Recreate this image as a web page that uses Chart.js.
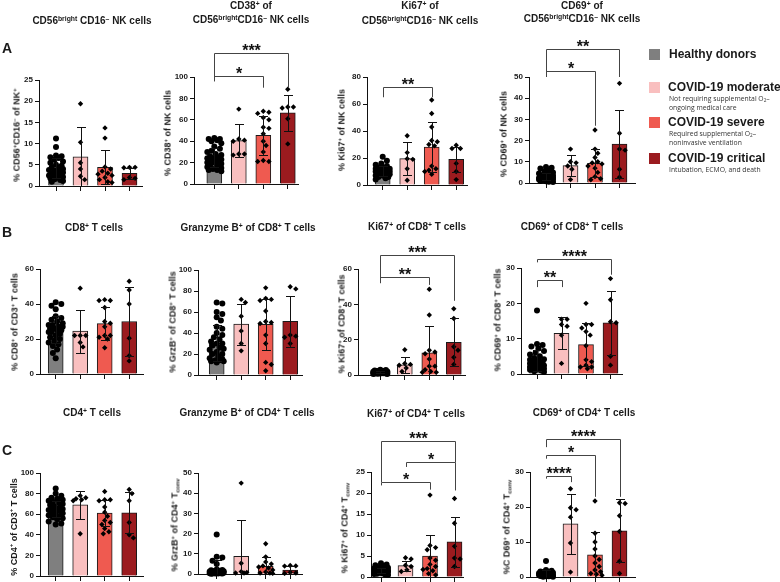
<!DOCTYPE html>
<html>
<head>
<meta charset="utf-8">
<title>NK and T cell phenotypes in COVID-19</title>
<script src="https://cdn.jsdelivr.net/npm/chart.js@4.4.1/dist/chart.umd.min.js"></script>
<style>
html,body{margin:0;padding:0;background:#fff;}
body{position:relative;width:780px;height:582px;overflow:hidden;font-family:"Liberation Sans",Arial,Helvetica,sans-serif;color:#1a1a1a;}
canvas{position:absolute;}
.tt{position:absolute;transform:translate(-50%,-50%);white-space:nowrap;font-weight:bold;font-size:10px;line-height:1;}
.yt{position:absolute;transform:translate(-50%,-50%) rotate(-90deg);white-space:nowrap;font-weight:bold;font-size:9px;line-height:1;}
.pl{position:absolute;transform:translate(-50%,-50%);font-weight:bold;font-size:14px;line-height:1;}
sup{font-size:68%;vertical-align:0.5em;line-height:0;}
sub{font-size:68%;vertical-align:-0.3em;line-height:0;}
.lg{position:absolute;width:11px;height:11px;}
.lt{position:absolute;transform:translateY(-50%);white-space:nowrap;font-weight:bold;font-size:12px;line-height:1;}
.ls{position:absolute;transform:translateY(-50%);white-space:nowrap;font-family:"Open Sans",sans-serif;font-size:6.8px;line-height:1;color:#333;}
</style>
</head>
<body>
<script>
// ---------- data ----------
const categories = ['Healthy donors', 'COVID-19 moderate', 'COVID-19 severe', 'COVID-19 critical'];
const groupColors = ['#7f7f7f', '#f9bfbf', '#ef5a50', '#9b1b1f'];
const legendNotes = [[], ['Not requiring supplemental O<sub>2</sub>–', 'ongoing medical care'], ['Required supplemental O<sub>2</sub>–', 'noninvasive ventilation'], ['Intubation, ECMO, and death']];

// A1  CD56bright CD16- NK cells
const A1_ticks = [0, 5, 10, 15, 20, 25];
const A1_mean = [4.3, 6.9, 4.4, 3.0];
const A1_sd = [2.3, 6.9, 4.0, 1.3];
const A1_points = [
  [11.2, 9.2, 7.2, 7.0, 6.8, 6.6, 6.2, 5.8, 5.5, 5.0, 4.8, 4.5, 4.3, 4.0, 3.8, 3.6, 3.4, 3.2, 3.0, 2.8, 2.6, 2.5, 2.3, 2.1, 2.0, 1.8, 1.6, 1.4, 1.2, 1.0],
  [19.4, 10.3, 5.5, 4.0, 2.3, 1.5],
  [13.7, 11.3, 4.5, 4.0, 3.5, 3.0, 2.8, 2.5, 2.0, 1.5, 1.0, 0.8],
  [4.4, 4.4, 4.3, 2.0, 1.8, 1.5]
];
const A1_sig = [];
const A1_title = ['CD56<sup>bright</sup> CD16<sup>–</sup> NK cells'];
const A1_ylabel = '% CD56<sup>+</sup>CD16<sup>–</sup> of NK<sup>+</sup>';

// A2  CD38+ of NK
const A2_ticks = [0, 20, 40, 60, 80, 100];
const A2_mean = [25, 40.5, 45.5, 66.5];
const A2_sd = [9, 15.5, 18, 17];
const A2_points = [
  [43, 42, 42, 41, 40, 38, 35, 33, 31, 30, 28, 27, 26, 25, 24, 23, 22, 21, 20, 20, 19, 18, 17, 16, 15, 14, 13, 13, 12, 24],
  [70, 42, 41, 40, 28, 28, 27],
  [68, 67, 66, 62, 60, 53, 52, 47, 40, 36, 30, 22, 21, 21],
  [88.5, 72, 72, 71, 61, 37.5]
];
const A2_sig = [[0, 3, 122.4, 96, 90, '***'], [0, 2, 101, 96, 90, '*']];
const A2_title = ['CD38<sup>+</sup> of', 'CD56<sup>bright</sup>CD16<sup>–</sup> NK cells'];
const A2_ylabel = '% CD38<sup>+</sup> of NK cells';

// A3  Ki67+ of NK
const A3_ticks = [0, 20, 40, 60, 80];
const A3_mean = [10.5, 19.5, 28, 19];
const A3_sd = [3.5, 12, 18.5, 9.5];
const A3_points = [
  [21, 18, 16, 15, 14, 13, 13, 12, 12, 12, 11, 11, 11, 10, 10, 10, 10, 9, 9, 9, 8, 8, 8, 7, 7, 6, 6, 5, 4, 10],
  [36.5, 24, 19.5, 19, 12, 3.5],
  [63, 53, 43, 33, 32, 30, 29, 14, 12, 11, 10, 8],
  [29.5, 27, 27, 16, 10, 4]
];
const A3_sig = [[0, 2, 72.6, 65, 65, '**']];
const A3_title = ['Ki67<sup>+</sup> of', 'CD56<sup>bright</sup>CD16<sup>–</sup> NK cells'];
const A3_ylabel = '% Ki67<sup>+</sup> of NK cells';

// A4  CD69+ of NK
const A4_ticks = [0, 10, 20, 30, 40, 50];
const A4_mean = [3.0, 8.2, 9.3, 18.3];
const A4_sd = [1.8, 5.0, 6.7, 16];
const A4_points = [
  [7.5, 7.2, 6.8, 6.0, 5.5, 5.0, 4.5, 4.0, 3.8, 3.5, 3.2, 3.0, 2.8, 2.6, 2.4, 2.2, 2.0, 2.0, 1.8, 1.6, 1.5, 1.4, 1.2, 1.0, 0.8, 0.6, 0.5, 3.0, 2.5, 1.8],
  [16, 10, 9.5, 8, 6.5, 1.6],
  [25, 16, 14, 12, 10, 9.5, 9, 8, 7, 5, 3, 2, 1.5],
  [47, 23.5, 16, 15.5, 6.5, 2.7]
];
const A4_sig = [[0, 3, 63, 50, 50, '**'], [0, 2, 52.8, 50, 27, '*']];
const A4_title = ['CD69<sup>+</sup> of', 'CD56<sup>bright</sup>CD16<sup>–</sup> NK cells'];
const A4_ylabel = '% CD69<sup>+</sup> of NK cells';

// B1  CD8+ T cells
const B1_ticks = [0, 20, 40, 60];
const B1_mean = [25.5, 24.5, 28.8, 30];
const B1_sd = [7.5, 12.3, 9.5, 19.5];
const B1_points = [
  [41, 40, 39, 37, 33, 32, 31, 30, 29, 28, 27, 27, 26, 26, 25, 25, 24, 23, 22, 21, 20, 19, 18, 17, 16, 14, 12, 9, 24, 28],
  [49, 22, 22, 22, 18, 15.5],
  [42.5, 42, 42, 38, 30, 29, 27, 22, 22, 21, 20, 15],
  [53, 48, 40, 20.5, 10.5, 7.5]
];
const B1_sig = [];
const B1_title = ['CD8<sup>+</sup> T cells'];
const B1_ylabel = '% CD8<sup>+</sup> of CD3<sup>+</sup> T cells';

// B2  Granzyme B+ of CD8+
const B2_ticks = [0, 20, 40, 60, 80, 100];
const B2_mean = [30.5, 48.5, 48.3, 51];
const B2_sd = [17, 19.5, 24.5, 24.5];
const B2_points = [
  [69, 68, 60, 58, 55, 52, 46, 44, 40, 38, 36, 34, 32, 30, 28, 26, 25, 22, 20, 18, 16, 15, 14, 13, 12, 13, 14, 20, 24, 30],
  [72, 69, 56, 42, 30, 23],
  [83, 73, 72, 71, 61, 51, 50, 49, 38, 30, 12, 10, 4],
  [84, 82, 38, 37, 36, 30]
];
const B2_sig = [];
const B2_title = ['Granzyme B<sup>+</sup> of CD8<sup>+</sup> T cells'];
const B2_ylabel = '% GrzB<sup>+</sup> of CD8<sup>+</sup> T cells';

// B3  Ki67+ of CD8+
const B3_ticks = [0, 20, 40, 60];
const B3_mean = [1.5, 5.8, 12.6, 18.5];
const B3_sd = [0.6, 4.4, 15, 13.5];
const B3_points = [
  [3.0, 2.8, 2.5, 2.3, 2.2, 2.0, 2.0, 1.9, 1.8, 1.7, 1.6, 1.6, 1.5, 1.5, 1.4, 1.4, 1.3, 1.3, 1.2, 1.2, 1.1, 1.0, 1.0, 0.9, 0.8, 0.8, 0.7, 0.6, 0.5, 1.5],
  [14.3, 6.5, 6, 5.5, 4, 2],
  [48.5, 34, 14, 13, 12, 9, 5, 5, 3, 2, 1.5, 1.5],
  [37.5, 32, 16, 14, 10, 6]
];
const B3_sig = [[0, 3, 67.9, 52, 42, '***'], [0, 2, 55.5, 52, 51, '**']];
const B3_title = ['Ki67<sup>+</sup> of CD8<sup>+</sup> T cells'];
const B3_ylabel = '% Ki67<sup>+</sup> of CD8<sup>+</sup> T cells';

// B4  CD69+ of CD8+
const B4_ticks = [0, 10, 20, 30];
const B4_mean = [3.8, 11.5, 8.3, 14.5];
const B4_sd = [3.0, 4.5, 6.0, 9.0];
const B4_points = [
  [18, 8.5, 8.2, 7.8, 7.2, 6.5, 6, 5.5, 5, 4.5, 4.2, 4, 3.8, 3.5, 3.2, 3, 2.8, 2.6, 2.4, 2.2, 2, 1.8, 1.6, 1.5, 1.3, 1.2, 1, 0.8, 0.6, 3],
  [15.5, 15.5, 14, 13.5, 11, 3],
  [20, 14, 14, 13, 12, 11, 8, 4, 3.5, 2.5, 2, 2, 1.5],
  [27, 21, 14.8, 14.5, 5, 2.5]
];
const B4_sig = [[0, 3, 32.6, 31.6, 28.1, '****'], [0, 1, 26.7, 24.6, 24.6, '**']];
const B4_title = ['CD69<sup>+</sup> of CD8<sup>+</sup> T cells'];
const B4_ylabel = '% CD69<sup>+</sup> of CD8<sup>+</sup> T cells';

// C1  CD4+ T cells
const C1_ticks = [0, 20, 40, 60, 80, 100];
const C1_mean = [65, 69, 61, 61.3];
const C1_sd = [7.5, 14, 12.5, 20];
const C1_points = [
  [85, 80, 78, 76, 75, 74, 73, 72, 71, 70, 69, 68, 67, 66, 65, 65, 64, 63, 62, 61, 60, 59, 58, 57, 56, 55, 53, 51, 50, 64],
  [78, 76, 75, 74, 73, 41],
  [82, 74, 74, 73, 67, 62, 58, 54, 52, 50, 46, 43, 41],
  [84, 80, 73, 52, 40, 37]
];
const C1_sig = [];
const C1_title = ['CD4<sup>+</sup> T cells'];
const C1_ylabel = '% CD4<sup>+</sup> of CD3<sup>+</sup> T cells';

// C2  Granzyme B+ of CD4+
const C2_ticks = [0, 10, 20, 30, 40, 50];
const C2_mean = [1.8, 8.7, 3.8, 2.0];
const C2_sd = [5.0, 18, 4.6, 1.8];
const C2_points = [
  [19.5, 8.5, 8.2, 6.5, 5, 2.2, 2, 1.8, 1.6, 1.5, 1.4, 1.3, 1.2, 1.1, 1, 0.9, 0.8, 0.8, 0.7, 0.6, 0.6, 0.5, 0.5, 0.4, 0.4, 0.3, 0.3, 0.2, 0.2, 0.1],
  [45, 5.3, 1.2, 0.8, 0.5, 0.5],
  [15, 8.5, 6, 5, 4, 3.5, 3, 2, 1, 0.5, 0.5, 0.3],
  [4.2, 4.0, 3.9, 0.8, 0.5, 0.3]
];
const C2_sig = [];
const C2_title = ['Granzyme B<sup>+</sup> of CD4<sup>+</sup> T cells'];
const C2_ylabel = '% GrzB<sup>+</sup> of CD4<sup>+</sup> T<sub>conv</sub>';

// C3  Ki67+ of CD4+
const C3_ticks = [0, 5, 10, 15, 20, 25];
const C3_mean = [1.6, 2.7, 5.0, 8.4];
const C3_sd = [0.6, 1.2, 5.0, 6.0];
const C3_points = [
  [3.3, 3.0, 2.8, 2.6, 2.4, 2.2, 2.0, 2.0, 1.9, 1.8, 1.7, 1.6, 1.6, 1.5, 1.5, 1.4, 1.4, 1.3, 1.3, 1.2, 1.2, 1.1, 1.0, 1.0, 0.9, 0.8, 0.7, 0.6, 0.5, 1.5],
  [4.6, 4.3, 2.8, 2.5, 1.7, 1.3],
  [19.5, 7.5, 7, 6.5, 4.5, 4, 3, 2.5, 2, 1.8, 1.5, 0.8, 0.5],
  [18.7, 12.8, 7.3, 4.5, 4.3, 2.5]
];
const C3_sig = [[0, 3, 32.4, 22.6, 27.3, '***'], [1, 3, 27.3, 26.2, 20.6, '*'], [0, 2, 22.6, 21.8, 20.8, '*']];
const C3_title = ['Ki67<sup>+</sup> of CD4<sup>+</sup> T cells'];
const C3_ylabel = '% Ki67<sup>+</sup> of CD4<sup>+</sup> T<sub>conv</sub>';

// C4  CD69+ of CD4+
const C4_ticks = [0, 10, 20, 30];
const C4_mean = [1.0, 15.2, 6.3, 13.2];
const C4_sd = [1.0, 8.5, 6.5, 9.0];
const C4_points = [
  [4.6, 2.0, 1.8, 1.6, 1.5, 1.4, 1.3, 1.2, 1.1, 1.0, 1.0, 0.9, 0.9, 0.8, 0.8, 0.7, 0.7, 0.6, 0.6, 0.5, 0.5, 0.4, 0.4, 0.3, 0.3, 0.2, 0.2, 0.1, 0.1, 0.8],
  [25.2, 19.8, 19.2, 17.1, 9.7, 1.4],
  [21.7, 12.5, 10, 8, 6, 5, 4, 3, 2, 1.5, 1, 0.8, 0.5],
  [21.2, 21, 17.5, 13, 4.5, 1]
];
const C4_sig = [[0, 3, 39.5, 37.1, 22.9, '****'], [0, 2, 34.8, 33.8, 22.9, '*'], [0, 1, 28.8, 28.1, 27.1, '****']];
const C4_title = ['CD69<sup>+</sup> of CD4<sup>+</sup> T cells'];
const C4_ylabel = '%C D69<sup>+</sup> of CD4<sup>+</sup> T<sub>conv</sub>';

// ---------- layout (page pixels) ----------
const LAYOUT = {
  A1: {axisX: 39, first: 56, end: 142, yTop: 80, y0: 186, tx: 92, ty: [21], ytx: 17, yty: 135},
  A2: {axisX: 194, first: 214.3, end: 298, yTop: 77, y0: 184, tx: 251, ty: [6, 20], ytx: 168, yty: 133},
  A3: {axisX: 367, first: 382.7, end: 467, yTop: 77, y0: 185, tx: 420, ty: [6, 21], ytx: 342, yty: 130},
  A4: {axisX: 529, first: 546, end: 635, yTop: 77, y0: 183, tx: 582, ty: [6, 19], ytx: 504, yty: 134},
  B1: {axisX: 40, first: 55.7, end: 143, yTop: 269, y0: 374, tx: 94, ty: [228], ytx: 15, yty: 322},
  B2: {axisX: 198, first: 216.7, end: 302, yTop: 270, y0: 375, tx: 248, ty: [228], ytx: 173, yty: 322},
  B3: {axisX: 358, first: 380.3, end: 465, yTop: 269, y0: 375, tx: 417, ty: [227], ytx: 342, yty: 324},
  B4: {axisX: 521, first: 537, end: 622, yTop: 268, y0: 374, tx: 572, ty: [227], ytx: 498, yty: 320},
  C1: {axisX: 40, first: 55.7, end: 143, yTop: 473, y0: 576, tx: 92, ty: [413], ytx: 14, yty: 527},
  C2: {axisX: 198, first: 216.7, end: 302, yTop: 473, y0: 574, tx: 247, ty: [413], ytx: 175, yty: 525},
  C3: {axisX: 371, first: 381, end: 463, yTop: 472, y0: 577, tx: 416, ty: [414], ytx: 345, yty: 528},
  C4: {axisX: 530, first: 546, end: 635, yTop: 472, y0: 577, tx: 584, ty: [413], ytx: 507, yty: 527}
};
const PANEL_LETTERS = [['A', 7, 48], ['B', 7, 232], ['C', 7, 450]];

const PANELS = [
  {id: 'A1', ticks: A1_ticks, mean: A1_mean, sd: A1_sd, pts: A1_points, sig: A1_sig, title: A1_title, ylab: A1_ylabel},
  {id: 'A2', ticks: A2_ticks, mean: A2_mean, sd: A2_sd, pts: A2_points, sig: A2_sig, title: A2_title, ylab: A2_ylabel},
  {id: 'A3', ticks: A3_ticks, mean: A3_mean, sd: A3_sd, pts: A3_points, sig: A3_sig, title: A3_title, ylab: A3_ylabel},
  {id: 'A4', ticks: A4_ticks, mean: A4_mean, sd: A4_sd, pts: A4_points, sig: A4_sig, title: A4_title, ylab: A4_ylabel},
  {id: 'B1', ticks: B1_ticks, mean: B1_mean, sd: B1_sd, pts: B1_points, sig: B1_sig, title: B1_title, ylab: B1_ylabel},
  {id: 'B2', ticks: B2_ticks, mean: B2_mean, sd: B2_sd, pts: B2_points, sig: B2_sig, title: B2_title, ylab: B2_ylabel},
  {id: 'B3', ticks: B3_ticks, mean: B3_mean, sd: B3_sd, pts: B3_points, sig: B3_sig, title: B3_title, ylab: B3_ylabel},
  {id: 'B4', ticks: B4_ticks, mean: B4_mean, sd: B4_sd, pts: B4_points, sig: B4_sig, title: B4_title, ylab: B4_ylabel},
  {id: 'C1', ticks: C1_ticks, mean: C1_mean, sd: C1_sd, pts: C1_points, sig: C1_sig, title: C1_title, ylab: C1_ylabel},
  {id: 'C2', ticks: C2_ticks, mean: C2_mean, sd: C2_sd, pts: C2_points, sig: C2_sig, title: C2_title, ylab: C2_ylabel},
  {id: 'C3', ticks: C3_ticks, mean: C3_mean, sd: C3_sd, pts: C3_points, sig: C3_sig, title: C3_title, ylab: C3_ylabel},
  {id: 'C4', ticks: C4_ticks, mean: C4_mean, sd: C4_sd, pts: C4_points, sig: C4_sig, title: C4_title, ylab: C4_ylabel}
];

// ---------- drawing ----------
const YW = 34, PT = 62, XH = 10, RP = 6, SP = 24.5, CAP = 4.5;
const FONT = '"Liberation Sans", Arial, Helvetica, sans-serif';

function swarm(vals, pxPerY, minD, maxOff, step) {
  const order = vals.map((v, i) => i).sort((a, b) => vals[b] - vals[a]);
  const cands = [0];
  for (let s = step; s <= maxOff + 1e-6; s += step) cands.push(s, -s);
  const placed = [], out = new Array(vals.length).fill(0);
  for (const i of order) {
    const yy = vals[i] * pxPerY;
    let best = 0, bestD = -1;
    for (const c of cands) {
      let md = Infinity;
      for (const q of placed) { const d = Math.hypot(q[0] - c, q[1] - yy); if (d < md) md = d; }
      if (md >= minD) { best = c; bestD = md; break; }
      if (md > bestD) { bestD = md; best = c; }
    }
    placed.push([best, yy]);
    out[i] = best;
  }
  return out;
}

function addDiv(cls, html, left, top) {
  const d = document.createElement('div');
  d.className = cls;
  d.innerHTML = html;
  d.style.left = left + 'px';
  d.style.top = top + 'px';
  document.body.appendChild(d);
  return d;
}

function decor(p) {
  return {
    id: 'decor' + p.id,
    afterDatasetsDraw(chart) {
      const ctx = chart.ctx, x = chart.scales.x, y = chart.scales.y;
      ctx.save();
      ctx.strokeStyle = '#111';
      ctx.lineWidth = 1;
      p.mean.forEach((m, i) => {
        const cx = Math.round(x.getPixelForValue(i)) + 0.5;
        const hiV = m + p.sd[i], loV = m - p.sd[i];
        const hi = Math.round(y.getPixelForValue(hiV)) + 0.5;
        const lo = Math.round(y.getPixelForValue(Math.max(0, loV))) + 0.5;
        ctx.beginPath();
        ctx.moveTo(cx, hi); ctx.lineTo(cx, lo);
        ctx.moveTo(cx - CAP, hi); ctx.lineTo(cx + CAP, hi);
        if (loV > 0) { ctx.moveTo(cx - CAP, lo); ctx.lineTo(cx + CAP, lo); }
        ctx.stroke();
      });
      ctx.strokeStyle = '#444';
      ctx.fillStyle = '#111';
      ctx.font = 'bold 16px ' + FONT;
      ctx.textAlign = 'center';
      ctx.textBaseline = 'alphabetic';
      p.sig.forEach(b => {
        const [i, j, lvl, le, re, label] = b;
        const xi = Math.round(x.getPixelForValue(i)) + 0.5, xj = Math.round(x.getPixelForValue(j)) + 0.5;
        const yl = Math.round(y.getPixelForValue(lvl)) + 0.5;
        const yle = y.getPixelForValue(le), yre = y.getPixelForValue(re);
        ctx.beginPath();
        ctx.moveTo(xi, yle); ctx.lineTo(xi, yl); ctx.lineTo(xj, yl); ctx.lineTo(xj, yre);
        ctx.stroke();
        ctx.fillText(label, (xi + xj) / 2, yl + 2);
      });
      ctx.restore();
    }
  };
}

function build(p) {
  const L = LAYOUT[p.id];
  const ax = Math.round(L.axisX), W = Math.round(L.end - L.axisX);
  const top = Math.round(L.yTop), H = Math.round(L.y0 - L.yTop);
  const cv = document.createElement('canvas');
  cv.width = YW + W + RP; cv.height = PT + H + XH;
  cv.style.left = (ax - YW) + 'px'; cv.style.top = (top - PT) + 'px';
  document.body.appendChild(cv);
  const ymax = p.ticks[p.ticks.length - 1];
  const pxY = H / ymax;
  const xMin = -(L.first - L.axisX) / SP, xMax = xMin + W / SP;

  const datasets = [{
    type: 'bar',
    data: p.mean.map((m, i) => ({x: i, y: m})),
    backgroundColor: groupColors,
    borderColor: '#1a1a1a',
    borderWidth: 1,
    borderSkipped: 'start',
    barThickness: 15,
    order: 3
  }];
  p.pts.forEach((vals, g) => {
    const offs = swarm(vals, pxY, g === 0 ? 5 : 4.8, 7, 1.4);
    datasets.push({
      type: 'scatter',
      data: vals.map((v, k) => ({x: g + offs[k] / SP, y: v})),
      pointStyle: g === 0 ? 'circle' : 'rectRot',
      pointRadius: g === 0 ? 3 : 2.7,
      backgroundColor: '#000',
      borderColor: '#000',
      borderWidth: 0,
      clip: false,
      order: 1
    });
  });

  new Chart(cv, {
    type: 'bar',
    data: {datasets},
    options: {
      responsive: false, animation: false, events: [], devicePixelRatio: 1,
      layout: {padding: {top: PT, right: RP, left: 0, bottom: 0}},
      plugins: {legend: {display: false}, tooltip: {enabled: false}},
      scales: {
        x: {
          type: 'linear', min: xMin, max: xMax, offset: false,
          afterBuildTicks: s => { s.ticks = [0, 1, 2, 3].map(v => ({value: v})); },
          afterFit: s => { s.height = XH; },
          ticks: {display: false},
          grid: {display: true, drawOnChartArea: false, drawTicks: true, tickLength: 5, color: '#111', lineWidth: 1, offset: false},
          border: {display: true, color: '#111', width: 1}
        },
        y: {
          type: 'linear', min: 0, max: ymax,
          afterBuildTicks: s => { s.ticks = p.ticks.map(v => ({value: v})); },
          afterFit: s => { s.width = YW; },
          ticks: {font: {family: FONT, size: 8, weight: 'bold'}, color: '#1a1a1a', padding: 2},
          grid: {display: true, drawOnChartArea: false, drawTicks: true, tickLength: 4, color: '#111', lineWidth: 1},
          border: {display: true, color: '#111', width: 1}
        }
      }
    },
    plugins: [decor(p)]
  });

  p.title.forEach((t, k) => addDiv('tt', t, L.tx, L.ty[k]));
  addDiv('yt', p.ylab, L.ytx, L.yty);
}

PANELS.forEach(build);
PANEL_LETTERS.forEach(([t, x, y]) => addDiv('pl', t, x, y));

// legend
const LEG_Y = [54, 87, 122, 158];
categories.forEach((c, i) => {
  const sq = addDiv('lg', '', 649, LEG_Y[i] - 5.5);
  sq.style.background = groupColors[i];
  addDiv('lt', c, i === 0 ? 669 : 668, LEG_Y[i]);
  legendNotes[i].forEach((n, k) => addDiv('ls', n, 669, LEG_Y[i] + 12 + k * 9));
});
</script>
</body>
</html>
